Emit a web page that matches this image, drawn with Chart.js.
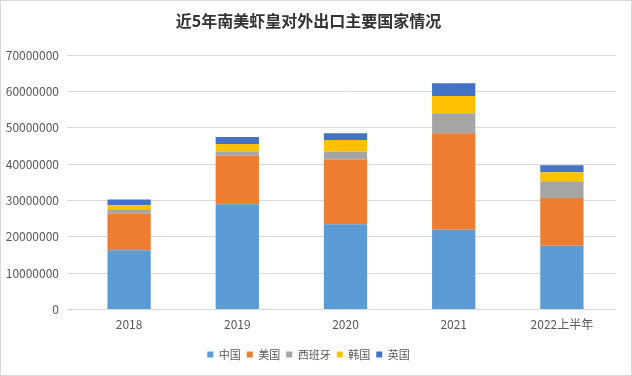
<!DOCTYPE html>
<html lang="zh">
<head>
  <meta charset="UTF-8" />
  <title>近5年南美虾皇对外出口主要国家情况</title>
  <style>
    body { margin: 0; padding: 0; background: #fff; }
    #wrap {
      width: 630px;
      height: 374px;
      border: 1px solid #d9d9d9;
      position: relative;
    }
  </style>
  <script src="https://cdn.jsdelivr.net/npm/chart.js"></script>
</head>
<body>
  <div id="wrap">
    <canvas id="chart" width="630" height="374"></canvas>
  </div>

  <script>
    const years = ['2018', '2019', '2020', '2021', '2022上半年'];
    const china = [16300000, 29000000, 23500000, 22000000, 17600000];
    const usa   = [10100000, 13300000, 17800000, 26500000, 13100000];
    const spain = [1000000, 1200000, 2100000, 5500000, 4600000];
    const korea = [1300000, 2100000, 3300000, 4800000, 2500000];
    const uk    = [1600000, 1900000, 1800000, 3500000, 1900000];
    const yTicks = [0, 10000000, 20000000, 30000000, 40000000, 50000000, 60000000, 70000000];

    const font = "'Noto Sans CJK SC', 'Noto Sans', sans-serif";
    Chart.defaults.font.family = font;
    Chart.defaults.color = '#595959';

    function ds(label, data, color) {
      return {
        label: label,
        data: data,
        backgroundColor: color,
        borderWidth: 0,
        categoryPercentage: 1,
        barPercentage: 0.4
      };
    }

    new Chart(document.getElementById('chart'), {
      type: 'bar',
      data: {
        labels: years,
        datasets: [
          ds('中国', china, '#5B9BD5'),
          ds('美国', usa, '#ED7D31'),
          ds('西班牙', spain, '#A5A5A5'),
          ds('韩国', korea, '#FFC000'),
          ds('英国', uk, '#4472C4')
        ]
      },
      options: {
        responsive: false,
        animation: false,
        layout: { padding: { left: 0, right: 15, top: 0, bottom: 5 } },
        plugins: {
          title: {
            display: true,
            text: '近5年南美虾皇对外出口主要国家情况',
            color: '#333333',
            font: { size: 16, weight: 'bold' },
            padding: { top: 10, bottom: 25 }
          },
          legend: {
            position: 'bottom',
            labels: {
              boxWidth: 6,
              boxHeight: 6,
              padding: 6,
              font: { size: 11 }
            }
          },
          tooltip: { enabled: false }
        },
        scales: {
          x: {
            stacked: true,
            grid: { display: false },
            border: { display: false },
            afterFit: function (scale) { scale.height += 11; },
            ticks: { font: { size: 12 }, padding: 0 }
          },
          y: {
            stacked: true,
            min: 0,
            max: 70000000,
            afterFit: function (scale) { scale.width = 74; },
            afterBuildTicks: function (scale) {
              scale.ticks = yTicks.map(v => ({ value: v }));
            },
            grid: { color: '#d9d9d9' },
            border: { display: false },
            ticks: {
              font: { size: 12 },
              padding: 8,
              callback: v => String(v)
            }
          }
        }
      }
    });
  </script>
</body>
</html>
